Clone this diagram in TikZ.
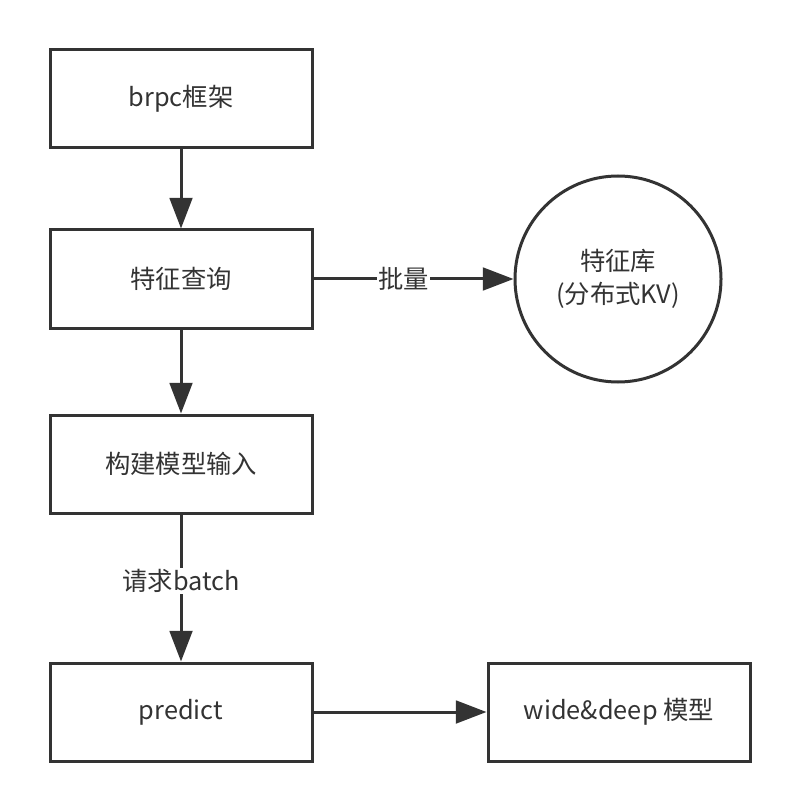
\documentclass[tikz,border=0pt]{standalone}
\usepackage{fontspec}
\setmainfont{Noto Sans CJK SC}
\usetikzlibrary{positioning, arrows.meta, shapes.geometric}
\definecolor{inkgray}{HTML}{333333}

\begin{document}
\begin{tikzpicture}[
        x=0.75pt, y=-0.75pt,
        font={\fontsize{19}{25}\selectfont},
        text=inkgray,
        stepbox/.style={draw=inkgray, line width=2.25pt, fill=white, align=center, minimum width=196.5pt, minimum height=73.5pt, inner sep=0pt},
        storebox/.style={draw=inkgray, line width=2.25pt, circle, align=center, minimum size=154.5pt, inner sep=0pt},
        flow/.style={-{Triangle[length=23pt, width=17pt]}, draw=inkgray, line width=2.25pt},
        flowlabel/.style={fill=white, inner sep=1pt, pos=0.45}
    ]

    % canvas
    \useasboundingbox (0,0) rectangle (800,812);

    % ========================================================
    % 1. main pipeline (left column)
    % ========================================================
    \node[stepbox] (brpc) at (181, 99) {brpc框架};
    \node[stepbox] (query) at (181, 279) {特征查询};
    \node[stepbox] (build) at (181, 464) {构建模型输入};
    \node[stepbox] (predict) at (181, 712) {predict};

    % ========================================================
    % 2. feature store and model (right column)
    % ========================================================
    \node[storebox] (kv) at (618, 279) {特征库\\(分布式KV)};
    \node[stepbox] (model) at (619, 712) {wide\&deep 模型};

    % Arrows
    \draw[flow] (brpc) -- (query);
    \draw[flow] (query) -- (build);
    \draw[flow] (build) -- node[flowlabel] {请求batch} (predict);
    \draw[flow] (query) -- node[flowlabel] {批量} (kv);
    \draw[flow] (predict) -- (model);

\end{tikzpicture}
\end{document}
